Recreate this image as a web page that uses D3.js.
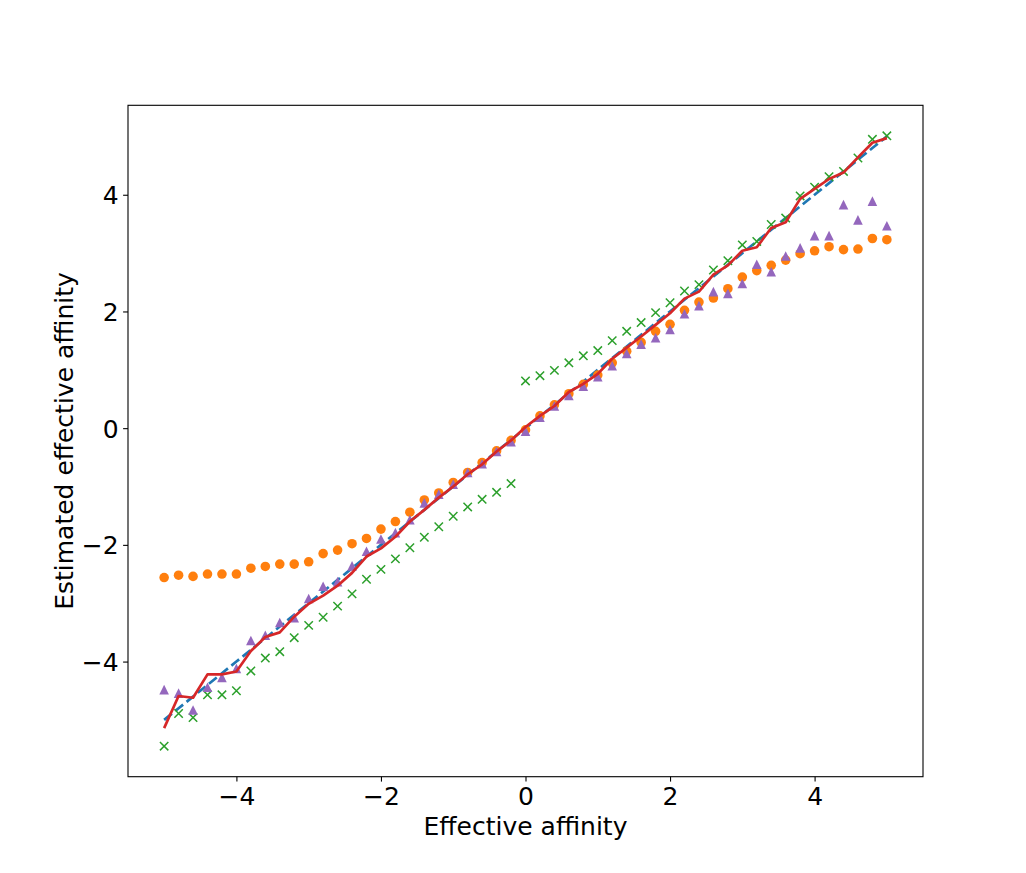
<!DOCTYPE html>
<html>
<head>
<meta charset="utf-8">
<script src="https://cdn.jsdelivr.net/npm/d3@7"></script>
<style>
    body { margin: 0; background: #fff; }
    text { font-family: "DejaVu Sans", sans-serif; fill: #000; }
</style>
</head>
<body>
<div id="chart"></div>
<script>
// effective affinity grid (x values)
const affinity = [-5.0, -4.8, -4.6, -4.4, -4.2, -4.0, -3.8, -3.6, -3.4, -3.2, -3.0,
    -2.8, -2.6, -2.4, -2.2, -2.0, -1.8, -1.6, -1.4, -1.2, -1.0,
    -0.8, -0.6, -0.4, -0.2, 0.0, 0.2, 0.4, 0.6, 0.8, 1.0,
    1.2, 1.4, 1.6, 1.8, 2.0, 2.2, 2.4, 2.6, 2.8, 3.0,
    3.2, 3.4, 3.6, 3.8, 4.0, 4.2, 4.4, 4.6, 4.8, 5.0];

// true line (dashed blue)
const trueLine = [-5.0, -4.8, -4.6, -4.4, -4.2, -4.0, -3.8, -3.6, -3.4, -3.2, -3.0,
    -2.8, -2.6, -2.4, -2.2, -2.0, -1.8, -1.6, -1.4, -1.2, -1.0,
    -0.8, -0.6, -0.4, -0.2, 0.0, 0.2, 0.4, 0.6, 0.8, 1.0,
    1.2, 1.4, 1.6, 1.8, 2.0, 2.2, 2.4, 2.6, 2.8, 3.0,
    3.2, 3.4, 3.6, 3.8, 4.0, 4.2, 4.4, 4.6, 4.8, 5.0];

// orange circles
const estCircles = [-2.56, -2.52, -2.54, -2.50, -2.50, -2.50, -2.40, -2.37, -2.33, -2.33, -2.29,
    -2.15, -2.09, -1.98, -1.89, -1.73, -1.60, -1.44, -1.23, -1.11, -0.93,
    -0.76, -0.59, -0.39, -0.21, -0.03, 0.21, 0.40, 0.59, 0.75, 0.91,
    1.12, 1.32, 1.47, 1.66, 1.78, 2.02, 2.16, 2.23, 2.39, 2.59,
    2.70, 2.79, 2.88, 2.99, 3.04, 3.11, 3.06, 3.07, 3.25, 3.23];

// green crosses
const estCrosses = [-5.45, -4.89, -4.96, -4.57, -4.57, -4.50, -4.16, -3.94, -3.83, -3.59, -3.38,
    -3.24, -3.05, -2.84, -2.59, -2.42, -2.24, -2.05, -1.87, -1.69, -1.51,
    -1.35, -1.22, -1.10, -0.95, 0.81, 0.90, 0.99, 1.12, 1.24, 1.33,
    1.50, 1.66, 1.81, 1.98, 2.15, 2.35, 2.46, 2.71, 2.87, 3.14,
    3.20, 3.49, 3.60, 3.98, 4.13, 4.31, 4.40, 4.63, 4.95, 5.01];

// purple triangles
const estTriangles = [-4.48, -4.54, -4.83, -4.44, -4.27, -4.12, -3.64, -3.55, -3.33, -3.25, -2.92,
    -2.71, -2.63, -2.36, -2.11, -1.90, -1.79, -1.57, -1.28, -1.13, -0.96,
    -0.76, -0.61, -0.40, -0.23, -0.05, 0.19, 0.38, 0.56, 0.72, 0.88,
    1.07, 1.28, 1.44, 1.55, 1.69, 1.96, 2.10, 2.34, 2.31, 2.48,
    2.81, 2.68, 2.95, 3.09, 3.30, 3.30, 3.83, 3.57, 3.89, 3.47];

// red solid line
const estLine = [-5.14, -4.59, -4.62, -4.22, -4.22, -4.17, -3.82, -3.58, -3.50, -3.23, -3.01,
    -2.87, -2.70, -2.48, -2.20, -2.06, -1.86, -1.60, -1.40, -1.19, -1.00,
    -0.79, -0.62, -0.40, -0.21, 0.02, 0.21, 0.38, 0.62, 0.76, 0.93,
    1.19, 1.38, 1.57, 1.77, 1.97, 2.22, 2.34, 2.63, 2.79, 3.04,
    3.10, 3.43, 3.53, 3.93, 4.10, 4.27, 4.38, 4.64, 4.89, 4.97];

const xTicks = [-4, -2, 0, 2, 4];
const yTicks = [-4, -2, 0, 2, 4];
const xLabel = "Effective affinity";
const yLabel = "Estimated effective affinity";

class AffinityChart {
    constructor(parentId) {
        this.parentElement = document.getElementById(parentId);
        this.margin = { top: 105.3, right: 103, bottom: 96.3, left: 128 };
        this.width = 1026 - this.margin.left - this.margin.right;
        this.height = 873 - this.margin.top - this.margin.bottom;
        this.initVis();
    }

    initVis() {
        let vis = this;
        vis.svg = d3.select(vis.parentElement).append("svg")
            .attr("width", 1026)
            .attr("height", 873)
            .append("g")
            .attr("transform", `translate(${vis.margin.left}, ${vis.margin.top})`);

        // matplotlib style 5% margins around the data
        let xExt = d3.extent(affinity);
        let yExt = d3.extent([].concat(trueLine, estCircles, estCrosses, estTriangles, estLine));
        let xPad = (xExt[1] - xExt[0]) * 0.05;
        let yPad = (yExt[1] - yExt[0]) * 0.05;

        vis.x = d3.scaleLinear()
            .domain([xExt[0] - xPad, xExt[1] + xPad])
            .range([0, vis.width]);
        vis.y = d3.scaleLinear()
            .domain([yExt[0] - yPad, yExt[1] + yPad])
            .range([vis.height, 0]);

        vis.updateVis();
    }

    updateVis() {
        let vis = this;
        let pts = ys => affinity.map((a, i) => [a, ys[i]]);

        let line = d3.line()
            .x(d => vis.x(d[0]))
            .y(d => vis.y(d[1]));

        // dashed blue reference
        vis.svg.append("path")
            .datum(pts(trueLine))
            .attr("fill", "none")
            .attr("stroke", "#1f77b4")
            .attr("stroke-width", 2.7)
            .attr("stroke-dasharray", "10,4.4")
            .attr("d", line);

        // orange circles
        vis.svg.append("g").selectAll("circle")
            .data(pts(estCircles))
            .enter().append("circle")
            .attr("cx", d => vis.x(d[0]))
            .attr("cy", d => vis.y(d[1]))
            .attr("r", 4.8)
            .attr("fill", "#ff7f0e");

        // green crosses
        let s = 4.2;
        vis.svg.append("g").selectAll("path")
            .data(pts(estCrosses))
            .enter().append("path")
            .attr("transform", d => `translate(${vis.x(d[0])}, ${vis.y(d[1])})`)
            .attr("d", `M${-s},${-s}L${s},${s}M${-s},${s}L${s},${-s}`)
            .attr("stroke", "#2ca02c")
            .attr("stroke-width", 1.5)
            .attr("fill", "none");

        // purple triangles
        let t = 4.8;
        vis.svg.append("g").selectAll("path")
            .data(pts(estTriangles))
            .enter().append("path")
            .attr("transform", d => `translate(${vis.x(d[0])}, ${vis.y(d[1])})`)
            .attr("d", `M0,${-t}L${t},${t}L${-t},${t}Z`)
            .attr("fill", "#9467bd");

        // red estimate line
        vis.svg.append("path")
            .datum(pts(estLine))
            .attr("fill", "none")
            .attr("stroke", "#d62728")
            .attr("stroke-width", 2.7)
            .attr("stroke-linejoin", "round")
            .attr("d", line);

        // axes
        let xAxis = d3.axisBottom(vis.x).tickValues(xTicks).tickSize(4.9).tickPadding(4.5);
        let yAxis = d3.axisLeft(vis.y).tickValues(yTicks).tickSize(4.9).tickPadding(4.5);

        let gx = vis.svg.append("g")
            .attr("transform", `translate(0, ${vis.height})`)
            .call(xAxis);
        let gy = vis.svg.append("g").call(yAxis);

        [gx, gy].forEach(g => {
            g.select(".domain").remove();
            g.selectAll(".tick line").attr("stroke", "#000").attr("stroke-width", 1.1);
            g.selectAll(".tick text")
                .style("font-family", "DejaVu Sans")
                .style("font-size", "25px")
                .attr("fill", "#000");
        });
        gy.selectAll(".tick text").attr("dy", "0.36em");
        gx.selectAll(".tick text").attr("dy", "0.76em");

        // frame
        vis.svg.append("rect")
            .attr("width", vis.width)
            .attr("height", vis.height)
            .attr("fill", "none")
            .attr("stroke", "#000")
            .attr("stroke-width", 1.1);

        // axis labels
        vis.svg.append("text")
            .attr("x", vis.width / 2)
            .attr("y", vis.height + 58.5)
            .attr("text-anchor", "middle")
            .style("font-size", "25px")
            .text(xLabel);

        vis.svg.append("text")
            .attr("transform", `translate(${73 - vis.margin.left}, ${vis.height / 2}) rotate(-90)`)
            .attr("text-anchor", "middle")
            .style("font-size", "25px")
            .text(yLabel);
    }
}

new AffinityChart("chart");
</script>
</body>
</html>
